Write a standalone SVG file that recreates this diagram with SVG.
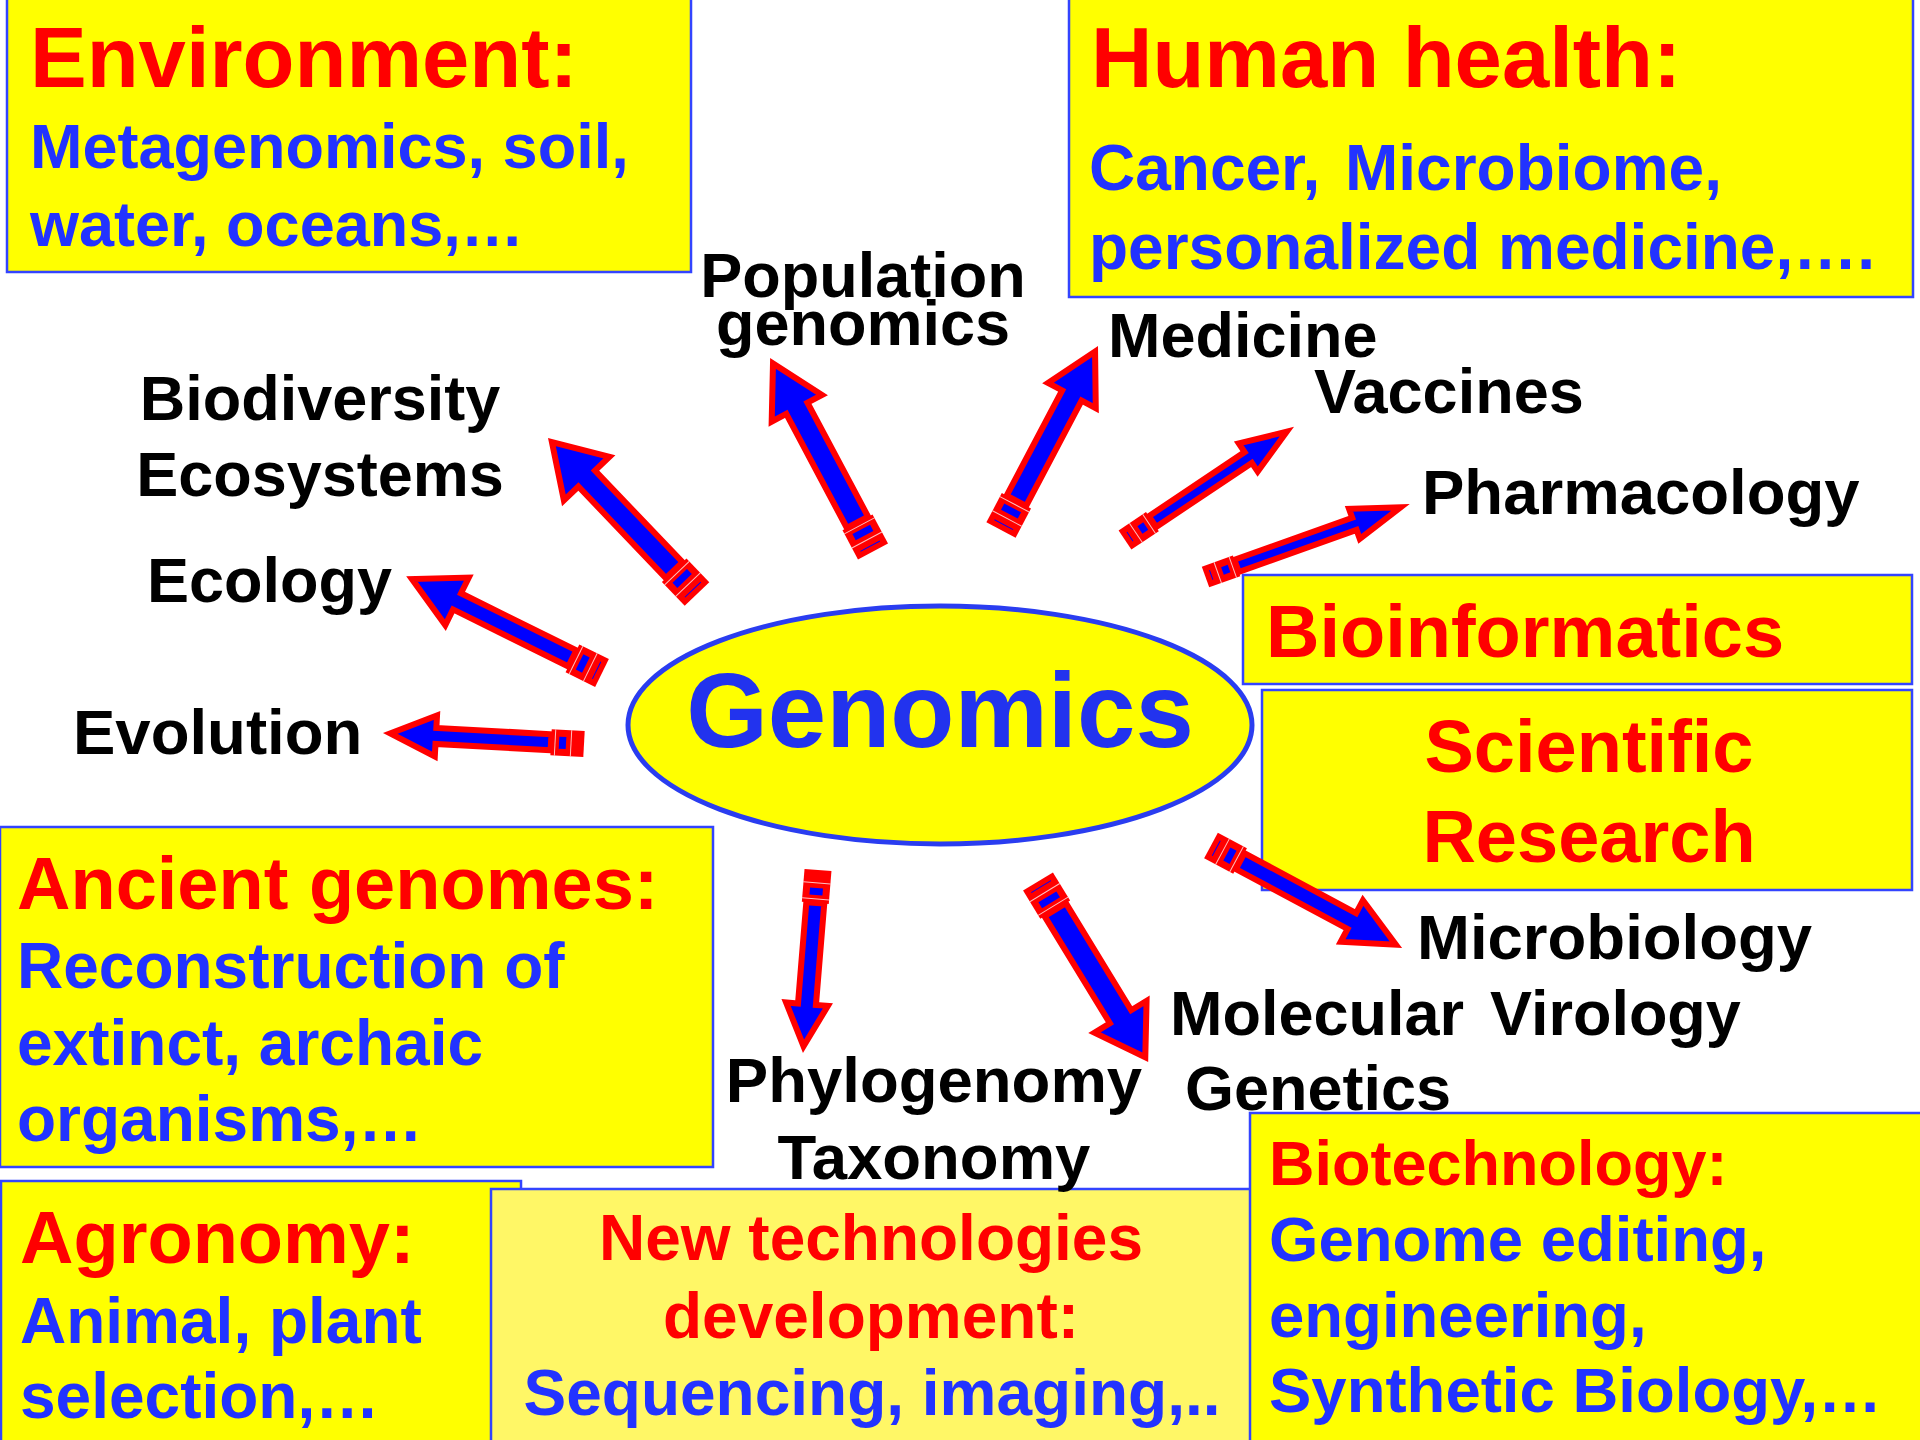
<svg xmlns="http://www.w3.org/2000/svg" width="1920" height="1440" viewBox="0 0 1920 1440">
<style>
.bg{fill:#ffffff}
.box{fill:#ffff00;stroke:#3344ff;stroke-width:2.5}
.box2{fill:#fff766;stroke:#3344ff;stroke-width:2.5}
.t{font-family:"Liberation Sans",Arial,Helvetica,sans-serif;font-weight:bold}
.red{fill:#ff0000}
.blue{fill:#2233ff}
.blk{fill:#000000}
.mid{text-anchor:middle}
.ab{fill:#0000ff;stroke:#ff0000;stroke-width:6;stroke-linejoin:miter;stroke-miterlimit:10}
.tb{fill:#ff0000}
.wl{stroke:#ffffff;stroke-opacity:0.75;stroke-width:1}
.bl{fill:#0000ff}
.tl{stroke:#0000ff;stroke-width:1}
</style>
<rect class="bg" x="0" y="0" width="1920" height="1440"/>

<g id="environment">
<rect class="box" x="7" y="-3" width="684" height="275"/>
<text class="t red" x="30" y="87" font-size="85">Environment:</text>
<text class="t blue" x="30" y="168" font-size="63">Metagenomics, soil,</text>
<text class="t blue" x="30" y="246" font-size="63">water, oceans,…</text>
</g>

<g id="human-health">
<rect class="box" x="1069" y="-3" width="844" height="300"/>
<text class="t red" x="1091" y="87" font-size="85">Human health:</text>
<text class="t blue" y="190" font-size="64"><tspan x="1089">Cancer,</tspan><tspan x="1345">Microbiome,</tspan></text>
<text class="t blue" x="1089" y="269" font-size="64">personalized medicine,….</text>
</g>

<g id="bioinformatics">
<rect class="box" x="1243" y="575" width="669" height="109"/>
<text class="t red" x="1266" y="657" font-size="74">Bioinformatics</text>
</g>

<g id="scientific-research">
<rect class="box" x="1262" y="690" width="650" height="200"/>
<text class="t red mid" x="1589" y="772" font-size="74">Scientific</text>
<text class="t red mid" x="1589" y="862" font-size="74">Research</text>
</g>

<g id="ancient-genomes">
<rect class="box" x="0" y="827" width="713" height="340"/>
<text class="t red" x="17" y="909" font-size="74">Ancient genomes:</text>
<text class="t blue" x="17" y="988" font-size="64">Reconstruction of</text>
<text class="t blue" x="17" y="1065" font-size="64">extinct, archaic</text>
<text class="t blue" x="17" y="1141" font-size="64">organisms,…</text>
</g>

<g id="agronomy">
<rect class="box" x="1" y="1181" width="520" height="265"/>
<text class="t red" x="20" y="1263" font-size="74">Agronomy:</text>
<text class="t blue" x="20" y="1343" font-size="64">Animal, plant</text>
<text class="t blue" x="20" y="1418" font-size="64">selection,…</text>
</g>

<g id="new-technologies">
<rect class="box2" x="491" y="1189" width="760" height="260"/>
<text class="t red mid" x="871" y="1260" font-size="64">New technologies</text>
<text class="t red mid" x="871" y="1338" font-size="64">development:</text>
<text class="t blue mid" x="872" y="1415" font-size="64">Sequencing, imaging,..</text>
</g>

<g id="biotechnology">
<rect class="box" x="1250" y="1113" width="675" height="335"/>
<text class="t red" x="1269" y="1185" font-size="63">Biotechnology:</text>
<text class="t blue" x="1269" y="1261" font-size="63.5">Genome editing,</text>
<text class="t blue" x="1269" y="1337" font-size="63.5">engineering,</text>
<text class="t blue" x="1269" y="1412" font-size="63.5">Synthetic Biology,…</text>
</g>

<g id="genomics">
<ellipse cx="940" cy="725" rx="312" ry="119" fill="#ffff00" stroke="#2a3df0" stroke-width="5"/>
<text class="t mid" x="940" y="747" font-size="105" fill="#2233ee">Genomics</text>
</g>

<g id="population-genomics">
<text class="t blk mid" x="863" y="297" font-size="63">Population</text>
<text class="t blk mid" x="863" y="345" font-size="63">genomics</text>
</g>
<g id="biodiversity">
<text class="t blk mid" x="320" y="420" font-size="63">Biodiversity</text>
<text class="t blk mid" x="320" y="496" font-size="63">Ecosystems</text>
</g>
<g id="ecology"><text class="t blk" x="147" y="602" font-size="63">Ecology</text></g>
<g id="evolution"><text class="t blk" x="73" y="754" font-size="63.5">Evolution</text></g>
<g id="medicine"><text class="t blk" x="1108" y="357" font-size="63">Medicine</text></g>
<g id="vaccines"><text class="t blk" x="1314" y="413" font-size="63">Vaccines</text></g>
<g id="pharmacology"><text class="t blk" x="1422" y="514" font-size="63.5">Pharmacology</text></g>
<g id="microbiology"><text class="t blk" x="1417" y="959" font-size="63.5">Microbiology</text></g>
<g id="molecular-virology"><text class="t blk" y="1035" font-size="63"><tspan x="1170">Molecular</tspan><tspan x="1490">Virology</tspan></text></g>
<g id="genetics"><text class="t blk" x="1185" y="1110" font-size="63">Genetics</text></g>
<g id="phylogenomy">
<text class="t blk mid" x="934" y="1102" font-size="63.5">Phylogenomy</text>
<text class="t blk mid" x="934" y="1179" font-size="63.5">Taxonomy</text>
</g>

<g id="connectors">
<!-- Biodiversity -->
<g transform="translate(697 594) rotate(-133.7)">
<rect class="tb" x="0" y="-17" width="33" height="34"/>
<polygon class="ab" points="33,-11.5 159.7,-11.5 159.7,-31.5 210,0 159.7,31.5 159.7,11.5 33,11.5"/>
<line class="wl" x1="29" y1="-17" x2="29" y2="17"/><rect class="bl" x="18" y="-10" width="7" height="20"/><line class="wl" x1="13" y1="-17" x2="13" y2="17"/><line class="tl" x1="6" y1="-11" x2="6" y2="11"/>
</g>
<!-- Ecology -->
<g transform="translate(602 673) rotate(-153.7)">
<rect class="tb" x="0" y="-15.5" width="33" height="31"/>
<polygon class="ab" points="33,-9 161.7,-9 161.7,-26.5 212,0 161.7,26.5 161.7,9 33,9"/>
<line class="wl" x1="29" y1="-15.5" x2="29" y2="15.5"/><rect class="bl" x="18" y="-8.5" width="7" height="17"/><line class="wl" x1="13" y1="-15.5" x2="13" y2="15.5"/><line class="tl" x1="6" y1="-9.5" x2="6" y2="9.5"/>
</g>
<!-- Evolution -->
<g transform="translate(584 744) rotate(-176.9)">
<rect class="tb" x="0" y="-13" width="33" height="26"/>
<polygon class="ab" points="33,-8 148.3,-8 148.3,-20.5 194,0 148.3,20.5 148.3,8 33,8"/>
<line class="wl" x1="29" y1="-13" x2="29" y2="13"/><rect class="bl" x="18" y="-6" width="7" height="12"/><line class="wl" x1="13" y1="-13" x2="13" y2="13"/>
</g>
<!-- Population genomics -->
<g transform="translate(873 551.5) rotate(-118)">
<rect class="tb" x="0" y="-17" width="33" height="34"/>
<polygon class="ab" points="33,-12 162.2,-12 162.2,-28.5 213,0 162.2,28.5 162.2,12 33,12"/>
<line class="wl" x1="29" y1="-17" x2="29" y2="17"/><rect class="bl" x="18" y="-10" width="7" height="20"/><line class="wl" x1="13" y1="-17" x2="13" y2="17"/><line class="tl" x1="6" y1="-11" x2="6" y2="11"/>
</g>
<!-- Medicine -->
<g transform="translate(1001 530) rotate(-62.2)">
<rect class="tb" x="0" y="-16.5" width="33" height="33"/>
<polygon class="ab" points="33,-11 152,-11 152,-27 201.7,0 152,27 152,11 33,11"/>
<line class="wl" x1="29" y1="-16.5" x2="29" y2="16.5"/><rect class="bl" x="18" y="-9.5" width="7" height="19"/><line class="wl" x1="13" y1="-16.5" x2="13" y2="16.5"/><line class="tl" x1="6" y1="-10.5" x2="6" y2="10.5"/>
</g>
<!-- Vaccines -->
<g transform="translate(1125 540) rotate(-33.8)">
<rect class="tb" x="0" y="-11.5" width="33" height="23"/>
<polygon class="ab" points="33,-6.5 148.3,-6.5 148.3,-17 194.7,0 148.3,17 148.3,6.5 33,6.5"/>
<line class="wl" x1="29" y1="-11.5" x2="29" y2="11.5"/><rect class="bl" x="18" y="-4.5" width="7" height="9"/><line class="wl" x1="13" y1="-11.5" x2="13" y2="11.5"/><line class="tl" x1="6" y1="-5.5" x2="6" y2="5.5"/>
</g>
<!-- Pharmacology -->
<g transform="translate(1205.5 577) rotate(-19.65)">
<rect class="tb" x="0" y="-11" width="33" height="22"/>
<polygon class="ab" points="33,-6.5 158.1,-6.5 158.1,-16 207.2,0 158.1,16 158.1,6.5 33,6.5"/>
<line class="wl" x1="29" y1="-11" x2="29" y2="11"/><rect class="bl" x="18" y="-4" width="7" height="8"/><line class="wl" x1="13" y1="-11" x2="13" y2="11"/><line class="tl" x1="6" y1="-5" x2="6" y2="5"/>
</g>
<!-- Microbiology -->
<g transform="translate(1211 845.5) rotate(28.2)">
<rect class="tb" x="0" y="-14.5" width="33" height="29"/>
<polygon class="ab" points="33,-9 159.8,-9 159.8,-23.5 209.8,0 159.8,23.5 159.8,9 33,9"/>
<line class="wl" x1="29" y1="-14.5" x2="29" y2="14.5"/><rect class="bl" x="18" y="-7.5" width="7" height="15"/><line class="wl" x1="13" y1="-14.5" x2="13" y2="14.5"/><line class="tl" x1="6" y1="-8.5" x2="6" y2="8.5"/>
</g>
<!-- Molecular Virology -->
<g transform="translate(1038 881.5) rotate(58.6)">
<rect class="tb" x="0" y="-17.5" width="33" height="35"/>
<polygon class="ab" points="33,-12.5 158.4,-12.5 158.4,-30.5 205.9,0 158.4,30.5 158.4,12.5 33,12.5"/>
<line class="wl" x1="29" y1="-17.5" x2="29" y2="17.5"/><rect class="bl" x="18" y="-10.5" width="7" height="21"/><line class="wl" x1="13" y1="-17.5" x2="13" y2="17.5"/><line class="tl" x1="6" y1="-11.5" x2="6" y2="11.5"/>
</g>
<!-- Phylogenomy -->
<g transform="translate(818 870) rotate(94.7)">
<rect class="tb" x="0" y="-13.5" width="33" height="27"/>
<polygon class="ab" points="33,-9 134.6,-9 134.6,-21 176.8,0 134.6,21 134.6,9 33,9"/>
<line class="wl" x1="29" y1="-13.5" x2="29" y2="13.5"/><rect class="bl" x="18" y="-6.5" width="7" height="13"/><line class="wl" x1="13" y1="-13.5" x2="13" y2="13.5"/>
</g>
</g>
</svg>
